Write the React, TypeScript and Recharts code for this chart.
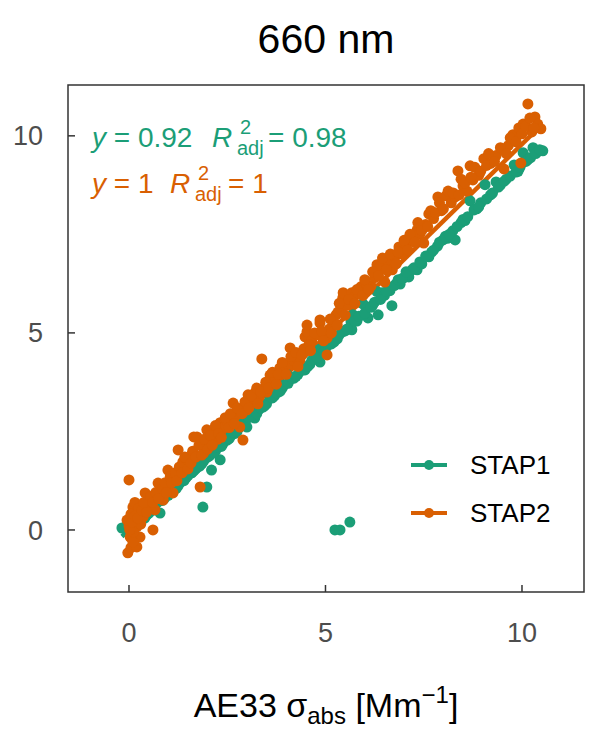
import React from 'react';
import { ComposedChart, Scatter, Line, XAxis, YAxis, ReferenceArea } from 'recharts';

const GREEN = '#1b9e77';
const ORANGE = '#d95f02';
const FONT = '"Liberation Sans", Arial, Helvetica, sans-serif';

const seriesNames = ['STAP1', 'STAP2'];
const seriesColors = [GREEN, ORANGE];
const xTicks = [0, 5, 10];
const yTicks = [0, 5, 10];
const xDomain = [-1.552, 11.578];
const yDomain = [-1.574, 11.29];

// STAP1 vs AE33 [x, y]
const stap1Points: [number, number][] = [
  [-0.18, 0.05], [-0.05, 0.12], [0, -0.05], [0.05, 0.08], [0.1, 0.02], [0.15, 0.2], [0.2, 0.1],
  [0.3, 0.25], [0.4, 0.3], [0.5, 0.42], [0.6, 0.5], [0.79, 0.43], [0.7, 0.68], [0.9, 0.8],
  [1.0, 0.88], [1.1, 1.0], [1.2, 1.05], [1.3, 1.2], [1.4, 1.25], [1.5, 1.38], [1.6, 1.45],
  [1.7, 1.55], [1.88, 0.58], [1.98, 1.09], [2.1, 1.52], [2.32, 1.78], [1.8, 1.62], [1.9, 1.75],
  [2.0, 1.85], [2.2, 2.0], [2.4, 2.2], [2.5, 2.28], [2.6, 2.4], [2.7, 2.45], [2.8, 2.6],
  [3.0, 2.61], [3.2, 2.84], [2.9, 2.7], [3.1, 2.9], [3.16, 2.97], [3.3, 3.05], [3.41, 3.12],
  [3.5, 3.2], [3.59, 3.38], [3.7, 3.4], [3.8, 3.5], [3.9, 3.6], [4.02, 3.95], [4.1, 3.88],
  [4.2, 3.85], [4.3, 3.95], [4.48, 4.06], [4.6, 4.2], [4.71, 4.34], [4.86, 4.26], [4.86, 4.59],
  [5.0, 4.6], [5.19, 4.9], [5.22, 4.77], [5.24, 0.0], [5.37, 0.0], [5.62, 0.2], [5.3, 4.85],
  [5.44, 5.03], [5.5, 5.05], [5.65, 5.28], [5.67, 5.08], [5.7, 5.46], [5.8, 5.3], [5.95, 5.74],
  [6.06, 5.66], [6.08, 5.38], [6.2, 5.7], [6.31, 6.05], [6.34, 5.46], [6.44, 6.02], [6.5, 5.95],
  [6.64, 6.07], [6.69, 5.69], [6.8, 6.25], [6.9, 6.24], [7.0, 6.4], [7.12, 6.42], [7.2, 6.6],
  [7.33, 6.6], [7.45, 6.75], [7.63, 6.93], [7.7, 7.05], [7.85, 7.2], [7.99, 7.36], [8.1, 7.4],
  [8.24, 7.59], [8.3, 7.36], [8.45, 7.8], [8.55, 7.85], [8.68, 8.35], [8.85, 8.15], [8.95, 8.3],
  [9.06, 8.76], [9.2, 8.5], [9.34, 8.83], [9.45, 8.75], [9.6, 8.9], [9.8, 9.26], [9.9, 9.1],
  [10.03, 9.57], [10.15, 9.4], [10.28, 9.7], [10.4, 9.6], [10.53, 9.62],
  [0.0, 0.05], [0.1, 0.12], [0.25, 0.18], [0.35, 0.35], [0.45, 0.38], [0.55, 0.55], [0.65, 0.58],
  [0.75, 0.72], [0.85, 0.75], [0.95, 0.9], [1.05, 0.95], [1.15, 1.1], [1.25, 1.12], [1.35, 1.28],
  [1.45, 1.32], [1.55, 1.45], [1.65, 1.5], [1.75, 1.6], [1.85, 1.68], [1.95, 1.82], [2.05, 1.88],
  [2.15, 1.95], [2.25, 2.1], [2.35, 2.12], [2.45, 2.3], [2.55, 2.32], [2.65, 2.48], [2.75, 2.5],
  [2.85, 2.65], [2.95, 2.68], [3.05, 2.85], [3.25, 2.95], [3.35, 3.1], [3.45, 3.15], [3.65, 3.35],
  [3.75, 3.48], [3.85, 3.52], [3.95, 3.68], [4.05, 3.72], [4.15, 3.85], [4.25, 3.9], [4.4, 4.05],
  [4.55, 4.15], [4.65, 4.3], [4.78, 4.38], [4.95, 4.5], [5.08, 4.7], [5.15, 4.72], [5.35, 4.95],
  [5.55, 5.1], [5.75, 5.3], [5.85, 5.42], [6.0, 5.5], [6.15, 5.65], [6.25, 5.78], [6.4, 5.85],
  [6.55, 6.05], [6.75, 6.2], [6.85, 6.35], [6.95, 6.38], [7.05, 6.55], [7.25, 6.65], [7.4, 6.8],
  [7.55, 6.95], [7.75, 7.1], [7.9, 7.3], [8.05, 7.45], [8.15, 7.5], [8.35, 7.7], [8.5, 7.88],
  [8.62, 7.95], [8.78, 8.12], [8.9, 8.2], [9.1, 8.4], [9.25, 8.55], [9.4, 8.7], [9.55, 8.85],
  [9.7, 8.98], [9.85, 9.08], [9.95, 9.2], [10.1, 9.35], [10.22, 9.45], [10.35, 9.55], [10.45, 9.65],
];

// STAP2 vs AE33 [x, y]
const stap2Points: [number, number][] = [
  [-0.05, 0.25], [0.03, -0.18], [-0.03, -0.58], [0.05, -0.45], [0.28, -0.18], [0.2, -0.43],
  [0.1, -0.3], [0.2, 0.08], [0.36, 0.33], [0.1, 0.58], [0, 1.27], [0.05, 0.4], [0.15, 0.7],
  [0.25, 0.55], [0.0, 0.1], [0.12, -0.05], [0.3, 0.15], [0.41, 0.94], [0.5, 0.6], [0.61, 0.0],
  [0.66, 0.51], [0.74, 1.19], [0.87, 0.76], [0.8, 0.9], [0.99, 1.52], [1.0, 1.1], [1.12, 0.94],
  [1.15, 1.3], [1.25, 2.03], [1.3, 1.5], [1.37, 1.73], [1.45, 1.6], [1.55, 1.78], [1.6, 1.9],
  [1.65, 2.36], [1.73, 2.36], [1.81, 1.09], [1.88, 2.1], [1.9, 1.95], [1.98, 2.54], [2.05, 2.2],
  [2.19, 2.46], [2.25, 2.3], [2.32, 2.72], [2.4, 2.6], [2.5, 2.75], [2.62, 2.84], [2.65, 3.22],
  [2.7, 2.9], [2.82, 2.61], [2.82, 3.05], [2.9, 2.28], [3.0, 3.05], [3.03, 3.43], [3.1, 3.2],
  [3.2, 3.48], [3.3, 3.35], [3.38, 4.34], [3.45, 3.6], [3.51, 3.5], [3.59, 3.93], [3.7, 3.8],
  [3.84, 4.11], [3.95, 4.0], [4.05, 4.2], [4.1, 4.62], [4.2, 4.3], [4.35, 4.31], [4.45, 4.6],
  [4.48, 4.9], [4.53, 5.03], [4.53, 5.2], [4.65, 4.8], [4.8, 4.95], [4.86, 5.25], [4.86, 5.33],
  [5.04, 4.44], [5.04, 4.87], [5.1, 5.1], [5.2, 5.3], [5.27, 5.46], [5.32, 5.53], [5.4, 5.6],
  [5.44, 5.89], [5.45, 6.02], [5.55, 5.7], [5.67, 6.02], [5.7, 5.89], [5.85, 6.0], [5.9, 6.17],
  [6.06, 6.22], [6.16, 6.19], [6.25, 6.4], [6.31, 6.73], [6.39, 6.68], [6.51, 6.29], [6.6, 6.8],
  [6.7, 6.6], [6.77, 6.93], [6.87, 7.18], [6.95, 7.0], [7.05, 7.25], [7.2, 7.36], [7.33, 7.61],
  [7.4, 7.5], [7.5, 7.28], [7.55, 7.75], [7.63, 8.02], [7.75, 7.9], [7.86, 8.45], [7.95, 8.1],
  [8.07, 8.48], [8.2, 8.3], [8.3, 8.45], [8.37, 9.11], [8.5, 8.73], [8.6, 8.6], [8.68, 9.24],
  [8.75, 8.88], [8.9, 9.0], [9.03, 9.42], [9.2, 9.3], [9.34, 9.5], [9.54, 9.16], [9.65, 9.75],
  [9.77, 10.03], [9.92, 10.2], [9.97, 9.31], [10.03, 10.3], [10.15, 10.81], [10.25, 10.1],
  [10.33, 10.48], [10.4, 10.3], [10.48, 10.18],
  [0.02, 0.0], [0.08, 0.2], [0.15, 0.35], [0.22, 0.3], [0.33, 0.5], [0.45, 0.45], [0.38, 0.7],
  [0.55, 0.85], [0.6, 0.7], [0.68, 0.95], [0.75, 0.8], [0.85, 1.05], [0.92, 1.2], [0.95, 0.95],
  [1.05, 1.35], [1.08, 1.2], [1.18, 1.45], [1.22, 1.25], [1.28, 1.6], [1.35, 1.45], [1.42, 1.85],
  [1.5, 1.55], [1.58, 1.7], [1.62, 2.0], [1.7, 1.85], [1.78, 2.15], [1.85, 1.9], [1.92, 2.3],
  [2.0, 2.05], [2.08, 2.4], [2.12, 2.15], [2.2, 2.65], [2.28, 2.45], [2.35, 2.35], [2.45, 2.85],
  [2.55, 2.6], [2.58, 2.95], [2.68, 2.7], [2.75, 3.1], [2.88, 2.95], [2.95, 3.25], [3.05, 3.1],
  [3.12, 3.4], [3.25, 3.6], [3.28, 3.2], [3.35, 3.5], [3.48, 3.75], [3.55, 3.6], [3.65, 4.0],
  [3.75, 3.7], [3.8, 3.95], [3.9, 4.25], [4.0, 3.95], [4.12, 4.4], [4.25, 4.5], [4.3, 4.15],
  [4.4, 4.45], [4.58, 4.7], [4.62, 4.55], [4.72, 5.0], [4.9, 5.05], [4.95, 4.8], [5.12, 5.35],
  [5.15, 5.0], [5.3, 5.2], [5.35, 5.75], [5.5, 5.45], [5.6, 5.85], [5.75, 5.75], [5.8, 6.1],
  [5.95, 5.95], [6.0, 6.35], [6.1, 6.1], [6.2, 6.55], [6.35, 6.45], [6.45, 6.9], [6.55, 6.6],
  [6.65, 7.0], [6.8, 6.75], [6.85, 7.05], [7.0, 7.35], [7.1, 7.1], [7.15, 7.5], [7.28, 7.3],
  [7.35, 7.8], [7.45, 7.6], [7.6, 7.7], [7.68, 8.1], [7.8, 8.05], [7.9, 8.3], [8.0, 8.15],
  [8.12, 8.6], [8.25, 8.55], [8.4, 8.5], [8.45, 8.9], [8.55, 8.8], [8.7, 8.95], [8.8, 9.2],
  [8.95, 9.1], [9.1, 9.25], [9.15, 9.55], [9.3, 9.35], [9.45, 9.7], [9.6, 9.55], [9.7, 9.95],
  [9.85, 9.85], [10.0, 10.05], [10.1, 10.25], [10.2, 10.45], [10.3, 10.2],
];

// linear fits (slope, intercept)
const fitSlopes = [0.92, 0.975];
const fitIntercepts = [0.0, 0.04];

const toRows = (pts: [number, number][]) => pts.map(([x, y]) => ({ x, y }));
const fitRows = (pts: [number, number][], slope: number, icpt: number) => {
  const xs = pts.map((p) => p[0]);
  const lo = Math.min(...xs);
  const hi = Math.max(...xs);
  return [
    { x: lo, y: slope * lo + icpt },
    { x: hi, y: slope * hi + icpt },
  ];
};

const stap1Data = toRows(stap1Points);
const stap2Data = toRows(stap2Points);
const fit1Data = fitRows(stap1Points, fitSlopes[0], fitIntercepts[0]);
const fit2Data = fitRows(stap2Points, fitSlopes[1], fitIntercepts[1]);

const makeDot = (color: string) => (props: any) => (
  <circle cx={props.cx} cy={props.cy} r={5.5} fill={color} />
);

const tickStyle = { fill: '#4d4d4d', fontSize: 27, fontFamily: FONT };

export default function App() {
  return (
    <div style={{ position: 'absolute', left: 0, top: 0, width: 589, height: 731, background: '#fff' }}>
      <ComposedChart
        width={589}
        height={731}
        margin={{ top: 85, right: 5, bottom: 79, left: 0 }}
      >
        <XAxis
          type="number"
          dataKey="x"
          domain={xDomain}
          ticks={xTicks}
          allowDataOverflow
          interval={0}
          height={60}
          tickSize={-7}
          tickMargin={38}
          axisLine={false}
          tickLine={{ stroke: '#333', strokeWidth: 1.5 }}
          tick={tickStyle}
        />
        <YAxis
          type="number"
          dataKey="y"
          domain={yDomain}
          ticks={yTicks}
          allowDataOverflow
          interval={0}
          width={68}
          tickSize={-7}
          tickMargin={32}
          axisLine={false}
          tickLine={{ stroke: '#333', strokeWidth: 1.5 }}
          tick={tickStyle}
        />
        <ReferenceArea
          x1={xDomain[0]}
          x2={xDomain[1]}
          y1={yDomain[0]}
          y2={yDomain[1]}
          fill="none"
          fillOpacity={0}
          stroke="#333"
          strokeWidth={1.5}
          ifOverflow="visible"
        />
        <Scatter name="STAP1" data={stap1Data} fill={GREEN} shape={makeDot(GREEN)} isAnimationActive={false} />
        <Scatter name="STAP2" data={stap2Data} fill={ORANGE} shape={makeDot(ORANGE)} isAnimationActive={false} />
        <Line
          data={fit1Data}
          dataKey="y"
          type="linear"
          stroke={GREEN}
          strokeWidth={4.5}
          dot={false}
          activeDot={false}
          legendType="none"
          isAnimationActive={false}
        />
        <Line
          data={fit2Data}
          dataKey="y"
          type="linear"
          stroke={ORANGE}
          strokeWidth={4.5}
          dot={false}
          activeDot={false}
          legendType="none"
          isAnimationActive={false}
        />
      </ComposedChart>
      <svg
        width={589}
        height={731}
        style={{ position: 'absolute', left: 0, top: 0, pointerEvents: 'none' }}
        fontFamily={FONT}
      >
        <text x={326} y={53} fontSize={41} textAnchor="middle" fill="#000">
          660 nm
        </text>
        <text x={326} y={717} fontSize={34} textAnchor="middle" fill="#000">
          AE33 σ<tspan dy={7} fontSize={24}>abs</tspan>
          <tspan dy={-7}> [Mm</tspan>
          <tspan dy={-14} fontSize={24}>−1</tspan>
          <tspan dy={14}>]</tspan>
        </text>
        <g fill={GREEN} fontSize={28}>
          <text x={92} y={147}>
            <tspan fontStyle="italic">y</tspan> = 0.92
          </text>
          <text x={212} y={147} fontStyle="italic">R</text>
          <text x={240} y={134} fontSize={20}>2</text>
          <text x={237} y={155} fontSize={20}>adj</text>
          <text x={268} y={147}>= 0.98</text>
        </g>
        <g fill={ORANGE} fontSize={28}>
          <text x={92} y={193}>
            <tspan fontStyle="italic">y</tspan> = 1
          </text>
          <text x={170} y={193} fontStyle="italic">R</text>
          <text x={198} y={180} fontSize={20}>2</text>
          <text x={195} y={201} fontSize={20}>adj</text>
          <text x={228} y={193}>= 1</text>
        </g>
        <g className="legend">
          {seriesNames.map((name, i) => {
            const cy = 465 + i * 48;
            return (
              <g key={name}>
                <line x1={411} x2={447} y1={cy} y2={cy} stroke={seriesColors[i]} strokeWidth={4} />
                <circle cx={429} cy={cy} r={5} fill={seriesColors[i]} />
                <text x={470} y={cy + 9} fontSize={26} fill="#000">
                  {name}
                </text>
              </g>
            );
          })}
        </g>
      </svg>
    </div>
  );
}
